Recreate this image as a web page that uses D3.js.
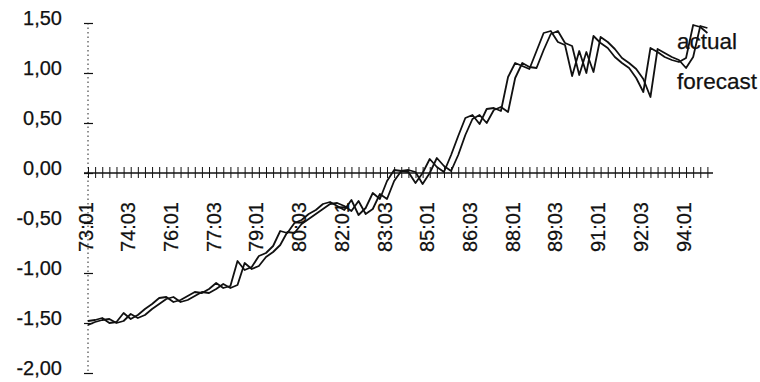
<!DOCTYPE html>
<html>
<head>
<meta charset="utf-8">
<script src="https://cdn.jsdelivr.net/npm/d3@7/dist/d3.min.js"></script>
<style>
  html, body { margin: 0; padding: 0; background: #fff; }
  svg { display: block; }
  text { font-family: "Liberation Sans", Arial, sans-serif; fill: #111; stroke: #111; stroke-width: 0.25px; }
</style>
</head>
<body>
<svg id="chart" width="760" height="382"></svg>
<script>
// Quarterly periods, 1973 Q1 to 1994 Q4
const quarters = [
  "73:01","73:02","73:03","73:04","74:01","74:02","74:03","74:04",
  "75:01","75:02","75:03","75:04","76:01","76:02","76:03","76:04",
  "77:01","77:02","77:03","77:04","78:01","78:02","78:03","78:04",
  "79:01","79:02","79:03","79:04","80:01","80:02","80:03","80:04",
  "81:01","81:02","81:03","81:04","82:01","82:02","82:03","82:04",
  "83:01","83:02","83:03","83:04","84:01","84:02","84:03","84:04",
  "85:01","85:02","85:03","85:04","86:01","86:02","86:03","86:04",
  "87:01","87:02","87:03","87:04","88:01","88:02","88:03","88:04",
  "89:01","89:02","89:03","89:04","90:01","90:02","90:03","90:04",
  "91:01","91:02","91:03","91:04","92:01","92:02","92:03","92:04",
  "93:01","93:02","93:03","93:04","94:01","94:02","94:03","94:04"
];

const actual = [
  -1.48,-1.47,-1.45,-1.50,-1.49,-1.40,-1.46,-1.42,
  -1.36,-1.31,-1.25,-1.24,-1.29,-1.27,-1.23,-1.19,
  -1.20,-1.16,-1.10,-1.15,-1.13,-0.88,-0.97,-0.94,
  -0.83,-0.80,-0.73,-0.58,-0.60,-0.50,-0.47,-0.41,
  -0.37,-0.31,-0.29,-0.33,-0.37,-0.27,-0.42,-0.35,
  -0.20,-0.26,-0.08, 0.03, 0.02, 0.01,-0.10, 0.00,
   0.14, 0.06, 0.01, 0.18, 0.37, 0.55, 0.58, 0.49,
   0.64, 0.65, 0.62, 0.96, 1.10, 1.07, 1.04, 1.22,
   1.40, 1.42, 1.31, 1.28, 0.97, 1.22, 1.00, 1.37,
   1.30, 1.25, 1.16, 1.10, 1.05, 0.95, 0.81, 1.25,
   1.21, 1.16, 1.13, 1.11, 1.15, 1.48, 1.46, 1.40
];

const forecast = [
  -1.52,-1.49,-1.47,-1.46,-1.50,-1.48,-1.41,-1.45,
  -1.42,-1.36,-1.31,-1.26,-1.24,-1.29,-1.27,-1.23,
  -1.19,-1.20,-1.16,-1.11,-1.15,-1.12,-0.90,-0.96,
  -0.93,-0.84,-0.79,-0.72,-0.59,-0.60,-0.51,-0.46,
  -0.41,-0.36,-0.31,-0.30,-0.33,-0.38,-0.28,-0.41,
  -0.36,-0.21,-0.26,-0.08, 0.02, 0.03, 0.01,-0.11,
   0.00, 0.15, 0.07, 0.02, 0.18, 0.38, 0.54, 0.58,
   0.50, 0.63, 0.66, 0.61, 0.95, 1.10, 1.06, 1.05,
   1.23, 1.39, 1.42, 1.30, 1.27, 0.98, 1.21, 1.01,
   1.36, 1.31, 1.24, 1.15, 1.10, 1.04, 0.94, 0.76,
   1.24, 1.20, 1.16, 1.13, 1.05, 1.16, 1.47, 1.45
];

const tickLabels = ["73:01","74:03","76:01","77:03","79:01","80:03","82:01",
  "83:03","85:01","86:03","88:01","89:03","91:01","92:03","94:01"];

const yTicks = [-2.0, -1.5, -1.0, -0.5, 0.0, 0.5, 1.0, 1.5];

const seriesNames = ["actual", "forecast"];

const svg = d3.select("#chart");

const x = d3.scalePoint().domain(quarters).range([88, 707.4]);
const y = d3.scaleLinear().domain([-2, 1.5]).range([373, 23]);
const axisEnd = 713;

// Value axis: dotted line with crossing ticks and comma-decimal labels
const yAxis = svg.append("g")
  .attr("transform", `translate(${x(quarters[0])},0)`)
  .call(d3.axisLeft(y).tickValues(yTicks).tickSize(0).tickPadding(0)
    .tickFormat(d => d.toFixed(2).replace(".", ",")));
yAxis.select(".domain").remove();
yAxis.append("line")
  .attr("x1", 0).attr("x2", 0)
  .attr("y1", y(1.5)).attr("y2", y(-2))
  .attr("stroke", "#222").attr("stroke-width", 1)
  .attr("stroke-dasharray", "1.5,3");
yAxis.selectAll(".tick line")
  .attr("x1", -4).attr("x2", 5)
  .attr("stroke", "#111").attr("stroke-width", 1.2);
yAxis.selectAll(".tick text")
  .attr("x", -26).attr("dy", "1.5")
  .attr("font-size", 20)
  .attr("text-anchor", "end")
  .attr("fill", "#111");

// Category axis at zero, with a crossing tick per quarter
const xAxis = svg.append("g")
  .attr("transform", `translate(0,${y(0)})`)
  .call(d3.axisBottom(x).tickValues(quarters).tickSize(0).tickFormat(""));
xAxis.select(".domain").remove();
xAxis.append("line")
  .attr("x1", x(quarters[0]) - 4).attr("x2", axisEnd)
  .attr("stroke", "#111").attr("stroke-width", 1.3);
xAxis.selectAll(".tick line")
  .attr("y1", -6).attr("y2", 5)
  .attr("stroke", "#111").attr("stroke-width", 1);

// Rotated period labels every sixth quarter
const labelAxis = svg.append("g")
  .attr("transform", `translate(0,${y(0)})`)
  .call(d3.axisBottom(x).tickValues(tickLabels).tickSize(0));
labelAxis.select(".domain").remove();
labelAxis.selectAll(".tick text")
  .attr("transform", "rotate(-90)")
  .attr("x", -29).attr("y", -3)
  .attr("dy", "0.35em")
  .attr("text-anchor", "end")
  .attr("font-size", 20)
  .attr("fill", "#111");

// Series lines
const line = d3.line()
  .x((d, i) => x(quarters[i]))
  .y(d => y(d));

[actual, forecast].forEach(s => {
  svg.append("path")
    .datum(s)
    .attr("d", line)
    .attr("fill", "none")
    .attr("stroke", "#111")
    .attr("stroke-width", 1.8)
    .attr("stroke-linejoin", "round");
});

// Series names
svg.selectAll(".series-name")
  .data(seriesNames)
  .join("text")
  .attr("class", "series-name")
  .attr("x", 677)
  .attr("y", (d, i) => 49 + i * 40)
  .attr("font-size", 22.5)
  .text(d => d);
</script>
</body>
</html>
